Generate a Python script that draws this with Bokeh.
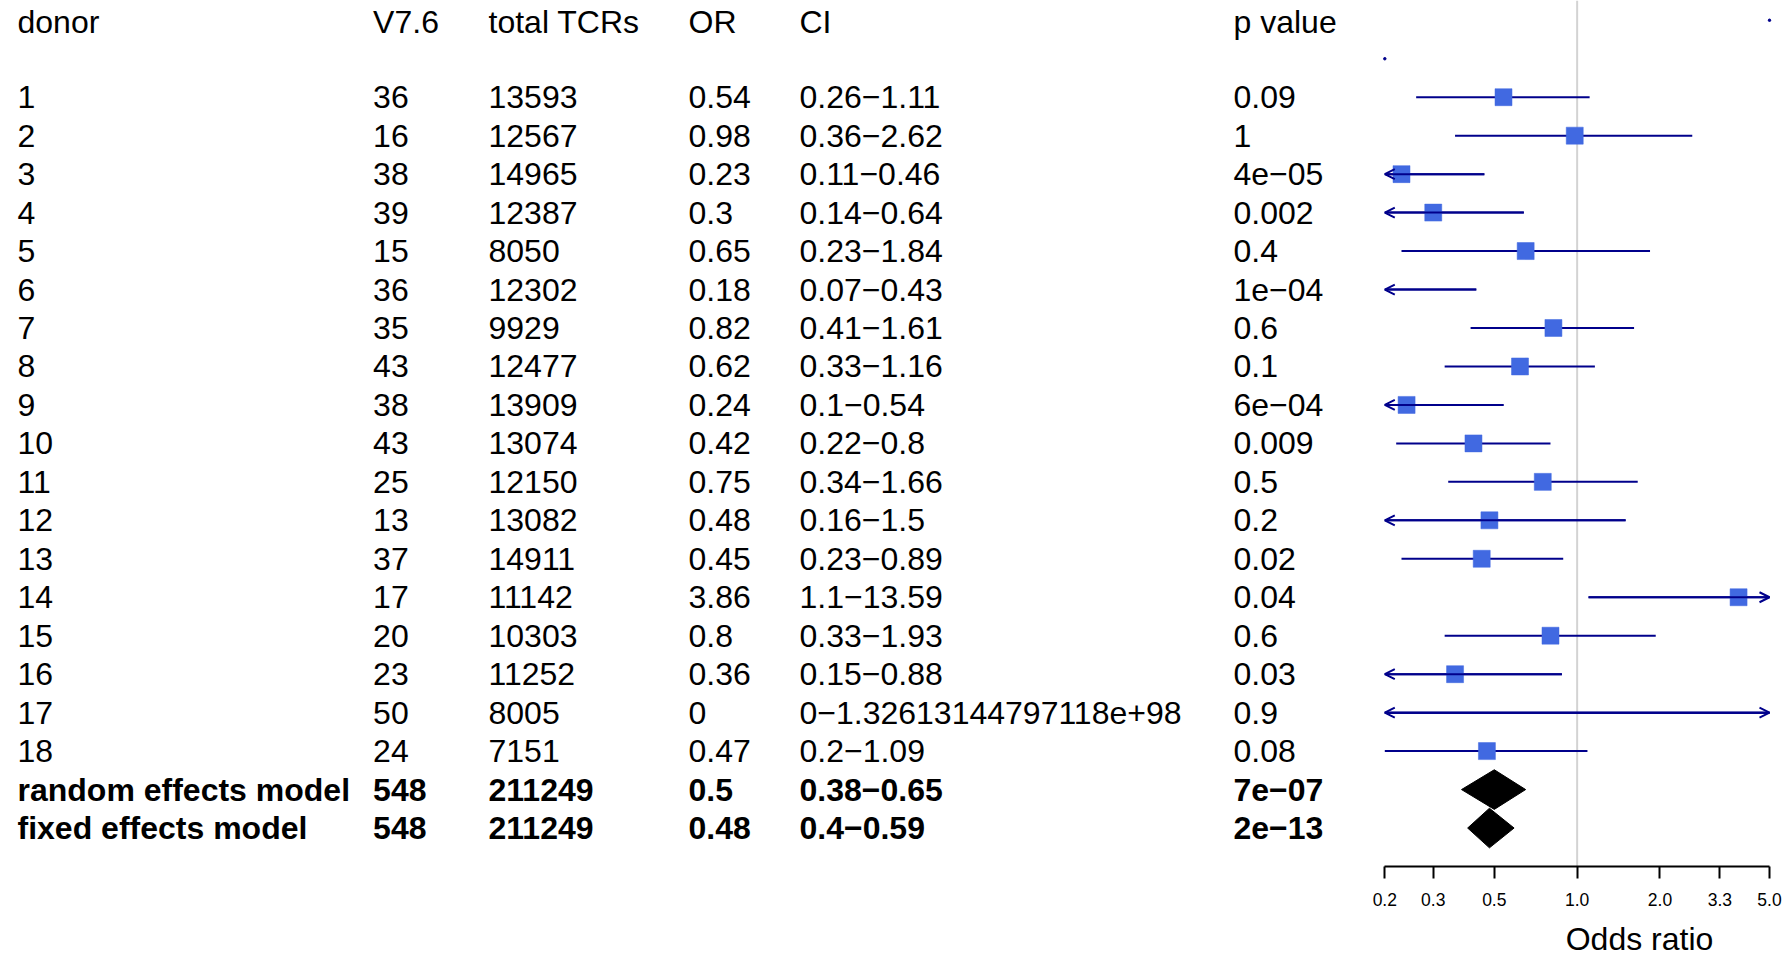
import math
from bokeh.plotting import figure
from bokeh.models import (Range1d, ColumnDataSource, FixedTicker, Span, Arrow,
                          OpenHead)
from bokeh.layouts import row, column
from bokeh.core.properties import value
from bokeh.embed import file_html
from bokeh.resources import INLINE

MINUS = "\u2212"

# ---------------- data ----------------
headers = ["donor", "V7.6", "total TCRs", "OR", "CI", "p value"]
donors = ["1", "2", "3", "4", "5", "6", "7", "8", "9", "10",
          "11", "12", "13", "14", "15", "16", "17", "18"]
v76 = [36, 16, 38, 39, 15, 36, 35, 43, 38, 43, 25, 13, 37, 17, 20, 23, 50, 24]
total_tcrs = [13593, 12567, 14965, 12387, 8050, 12302, 9929, 12477, 13909,
              13074, 12150, 13082, 14911, 11142, 10303, 11252, 8005, 7151]
odds = [0.54, 0.98, 0.23, 0.3, 0.65, 0.18, 0.82, 0.62, 0.24, 0.42, 0.75,
        0.48, 0.45, 3.86, 0.8, 0.36, 0, 0.47]
ci_low = [0.26, 0.36, 0.11, 0.14, 0.23, 0.07, 0.41, 0.33, 0.1, 0.22, 0.34,
          0.16, 0.23, 1.1, 0.33, 0.15, 0, 0.2]
ci_high = [1.11, 2.62, 0.46, 0.64, 1.84, 0.43, 1.61, 1.16, 0.54, 0.8, 1.66,
           1.5, 0.89, 13.59, 1.93, 0.88, 1.32613144797118e+98, 1.09]
p_values = ["0.09", "1", "4e\u221205", "0.002", "0.4", "1e\u221204", "0.6",
            "0.1", "6e\u221204", "0.009", "0.5", "0.2", "0.02", "0.04", "0.6",
            "0.03", "0.9", "0.08"]

summary_labels = ["random effects model", "fixed effects model"]
summary_v76 = [548, 548]
summary_total = [211249, 211249]
summary_or = [0.5, 0.48]
summary_low = [0.38, 0.4]
summary_high = [0.65, 0.59]
summary_p = ["7e\u221207", "2e\u221213"]

# stray NA markers of the header / blank rows
na_mark_x = [5.0, 0.2]
na_mark_row = [0, 1]

axis_ticks = [0.2, 0.3, 0.5, 1.0, 2.0, 3.3, 5.0]
axis_tick_labels = ["0.2", "0.3", "0.5", "1.0", "2.0", "3.3", "5.0"]
x_title = "Odds ratio"
AX_LO, AX_HI = 0.2, 5.0

# ---------------- layout constants ----------------
FIG_H = 956
W_LEFT, W_RIGHT = 1368, 424
FRAME_H = 866            # page y of the axis line (frame bottom)
TITLE_H = 40             # height of the strip that holds the axis title
ROW_PX = 38.465
N_ROWS_BOTTOM = 22
COL_X = [17, 372.6, 488, 688, 799, 1233]   # page pixel positions of columns
FONT = value("Liberation Sans")
FS_PX = 32
FS = "%dpx" % FS_PX

y_range = Range1d(N_ROWS_BOTTOM, N_ROWS_BOTTOM - FRAME_H / ROW_PX)

# forest x mapping (page px of 0.2 and 5.0)
PX_LO, PX_HI = 1384.3, 1769.0
K = (PX_HI - PX_LO) / math.log(AX_HI / AX_LO)


def px_to_val(px):
    return AX_LO * math.exp((px - PX_LO) / K)


def fmt(v):
    if v == int(v) and abs(v) < 1e15:
        return "%d" % v
    return repr(float(v))


donor_rows = list(range(2, 2 + len(donors)))
summary_rows = [donor_rows[-1] + 1, donor_rows[-1] + 2]

# ---------------- text table ----------------
norm = dict(x=[], y=[], text=[])
bold = dict(x=[], y=[], text=[])
for cx, h in zip(COL_X, headers):
    norm["x"].append(cx); norm["y"].append(0.05); norm["text"].append(h)
for i, r in enumerate(donor_rows):
    cells = [donors[i], str(v76[i]), str(total_tcrs[i]), fmt(odds[i]),
             fmt(ci_low[i]) + MINUS + fmt(ci_high[i]), p_values[i]]
    for cx, t in zip(COL_X, cells):
        norm["x"].append(cx); norm["y"].append(r); norm["text"].append(t)
for i, r in enumerate(summary_rows):
    cells = [summary_labels[i], str(summary_v76[i]), str(summary_total[i]),
             fmt(summary_or[i]), fmt(summary_low[i]) + MINUS + fmt(summary_high[i]),
             summary_p[i]]
    for cx, t in zip(COL_X, cells):
        bold["x"].append(cx); bold["y"].append(r); bold["text"].append(t)

p1 = figure(width=W_LEFT, height=FIG_H, x_range=Range1d(0, W_LEFT),
            y_range=y_range, output_backend="svg", toolbar_location=None,
            x_axis_location=None, y_axis_location=None,
            min_border_left=0, min_border_right=0, min_border_top=0,
            min_border_bottom=FIG_H - FRAME_H)
p1.outline_line_color = None
p1.xgrid.visible = False
p1.ygrid.visible = False
p1.text(x="x", y="y", text="text", source=ColumnDataSource(norm),
        text_font=FONT, text_font_size=FS, text_align="left",
        text_baseline="middle", text_color="black")
p1.text(x="x", y="y", text="text", source=ColumnDataSource(bold),
        text_font=FONT, text_font_size=FS, text_font_style="bold",
        text_align="left", text_baseline="middle", text_color="black")

# ---------------- forest plot ----------------
x_lo = px_to_val(W_LEFT)
x_hi = px_to_val(W_LEFT + W_RIGHT)
P2_H = FIG_H - TITLE_H
p2 = figure(width=W_RIGHT, height=P2_H, x_axis_type="log",
            x_range=Range1d(x_lo, x_hi), y_range=y_range,
            output_backend="svg", toolbar_location=None,
            y_axis_location=None,
            min_border_left=0, min_border_right=0, min_border_top=0,
            min_border_bottom=P2_H - FRAME_H)
p2.outline_line_color = None
p2.xgrid.visible = False
p2.ygrid.visible = False

span = Span(location=1.0, dimension="height", line_color="#d3d3d3",
            line_width=2, level="underlay")
p2.add_layout(span)

DARK = "#00008B"
seg = dict(x0=[], x1=[], y=[])
sq = dict(x=[], y=[])
left_arr = dict(xs=[], xe=[], y=[])
right_arr = dict(xs=[], xe=[], y=[])
for i, r in enumerate(donor_rows):
    x0 = max(ci_low[i], AX_LO)
    x1 = min(ci_high[i], AX_HI)
    seg["x0"].append(x0); seg["x1"].append(x1); seg["y"].append(r)
    if AX_LO <= odds[i] <= AX_HI:
        sq["x"].append(odds[i]); sq["y"].append(r)
    if ci_low[i] < AX_LO:
        left_arr["xs"].append(x1); left_arr["xe"].append(AX_LO); left_arr["y"].append(r)
    if ci_high[i] > AX_HI:
        right_arr["xs"].append(x0); right_arr["xe"].append(AX_HI); right_arr["y"].append(r)

p2.segment(x0="x0", y0="y", x1="x1", y1="y", source=ColumnDataSource(seg),
           line_color=DARK, line_width=2)
for d in (left_arr, right_arr):
    p2.add_layout(Arrow(end=OpenHead(size=10, line_color=DARK, line_width=2),
                        x_start="xs", y_start="y", x_end="xe", y_end="y",
                        source=ColumnDataSource(d), line_color=DARK,
                        line_width=2))
p2.scatter(x="x", y="y", source=ColumnDataSource(sq), marker="square",
           size=17, fill_color="#4169E1", line_color="#4169E1", line_width=0.5)

p2.scatter(x=na_mark_x, y=na_mark_row, marker="circle", size=2.5,
           fill_color=DARK, line_color=DARK)

DIAMOND_HALF = 0.515
dx, dy = [], []
for i, r in enumerate(summary_rows):
    dx.append([summary_low[i], summary_or[i], summary_high[i], summary_or[i]])
    dy.append([r, r - DIAMOND_HALF, r, r + DIAMOND_HALF])
p2.patches(xs=dx, ys=dy, fill_color="black", line_color="black", line_width=1)

xa = p2.xaxis[0]
xa.ticker = FixedTicker(ticks=axis_ticks)
xa.major_label_overrides = {t: l for t, l in zip(axis_ticks, axis_tick_labels)}
xa.bounds = (AX_LO, AX_HI)
xa.axis_line_width = 2
xa.axis_line_color = "black"
xa.major_tick_line_width = 2
xa.major_tick_line_color = "black"
xa.major_tick_out = 12
xa.major_tick_in = 0
xa.minor_tick_line_color = None
xa.major_label_standoff = 14
xa.major_label_text_font = "Liberation Sans"
xa.major_label_text_font_size = "17.5px"
xa.major_label_text_color = "black"

# ---------------- axis title strip ----------------
p3 = figure(width=W_RIGHT, height=TITLE_H,
            x_range=Range1d(W_LEFT, W_LEFT + W_RIGHT),
            y_range=Range1d(FIG_H, FIG_H - TITLE_H),
            output_backend="svg", toolbar_location=None,
            x_axis_location=None, y_axis_location=None,
            min_border_left=0, min_border_right=0, min_border_top=0,
            min_border_bottom=0)
p3.outline_line_color = None
p3.xgrid.visible = False
p3.ygrid.visible = False
p3.text(x=[1639], y=[938], text=[x_title], text_font=FONT, text_font_size=FS,
        text_align="center", text_baseline="middle", text_color="black")

layout = row(p1, column(p2, p3, spacing=0), spacing=0)
open("out.html", "w").write(file_html(layout, INLINE))
